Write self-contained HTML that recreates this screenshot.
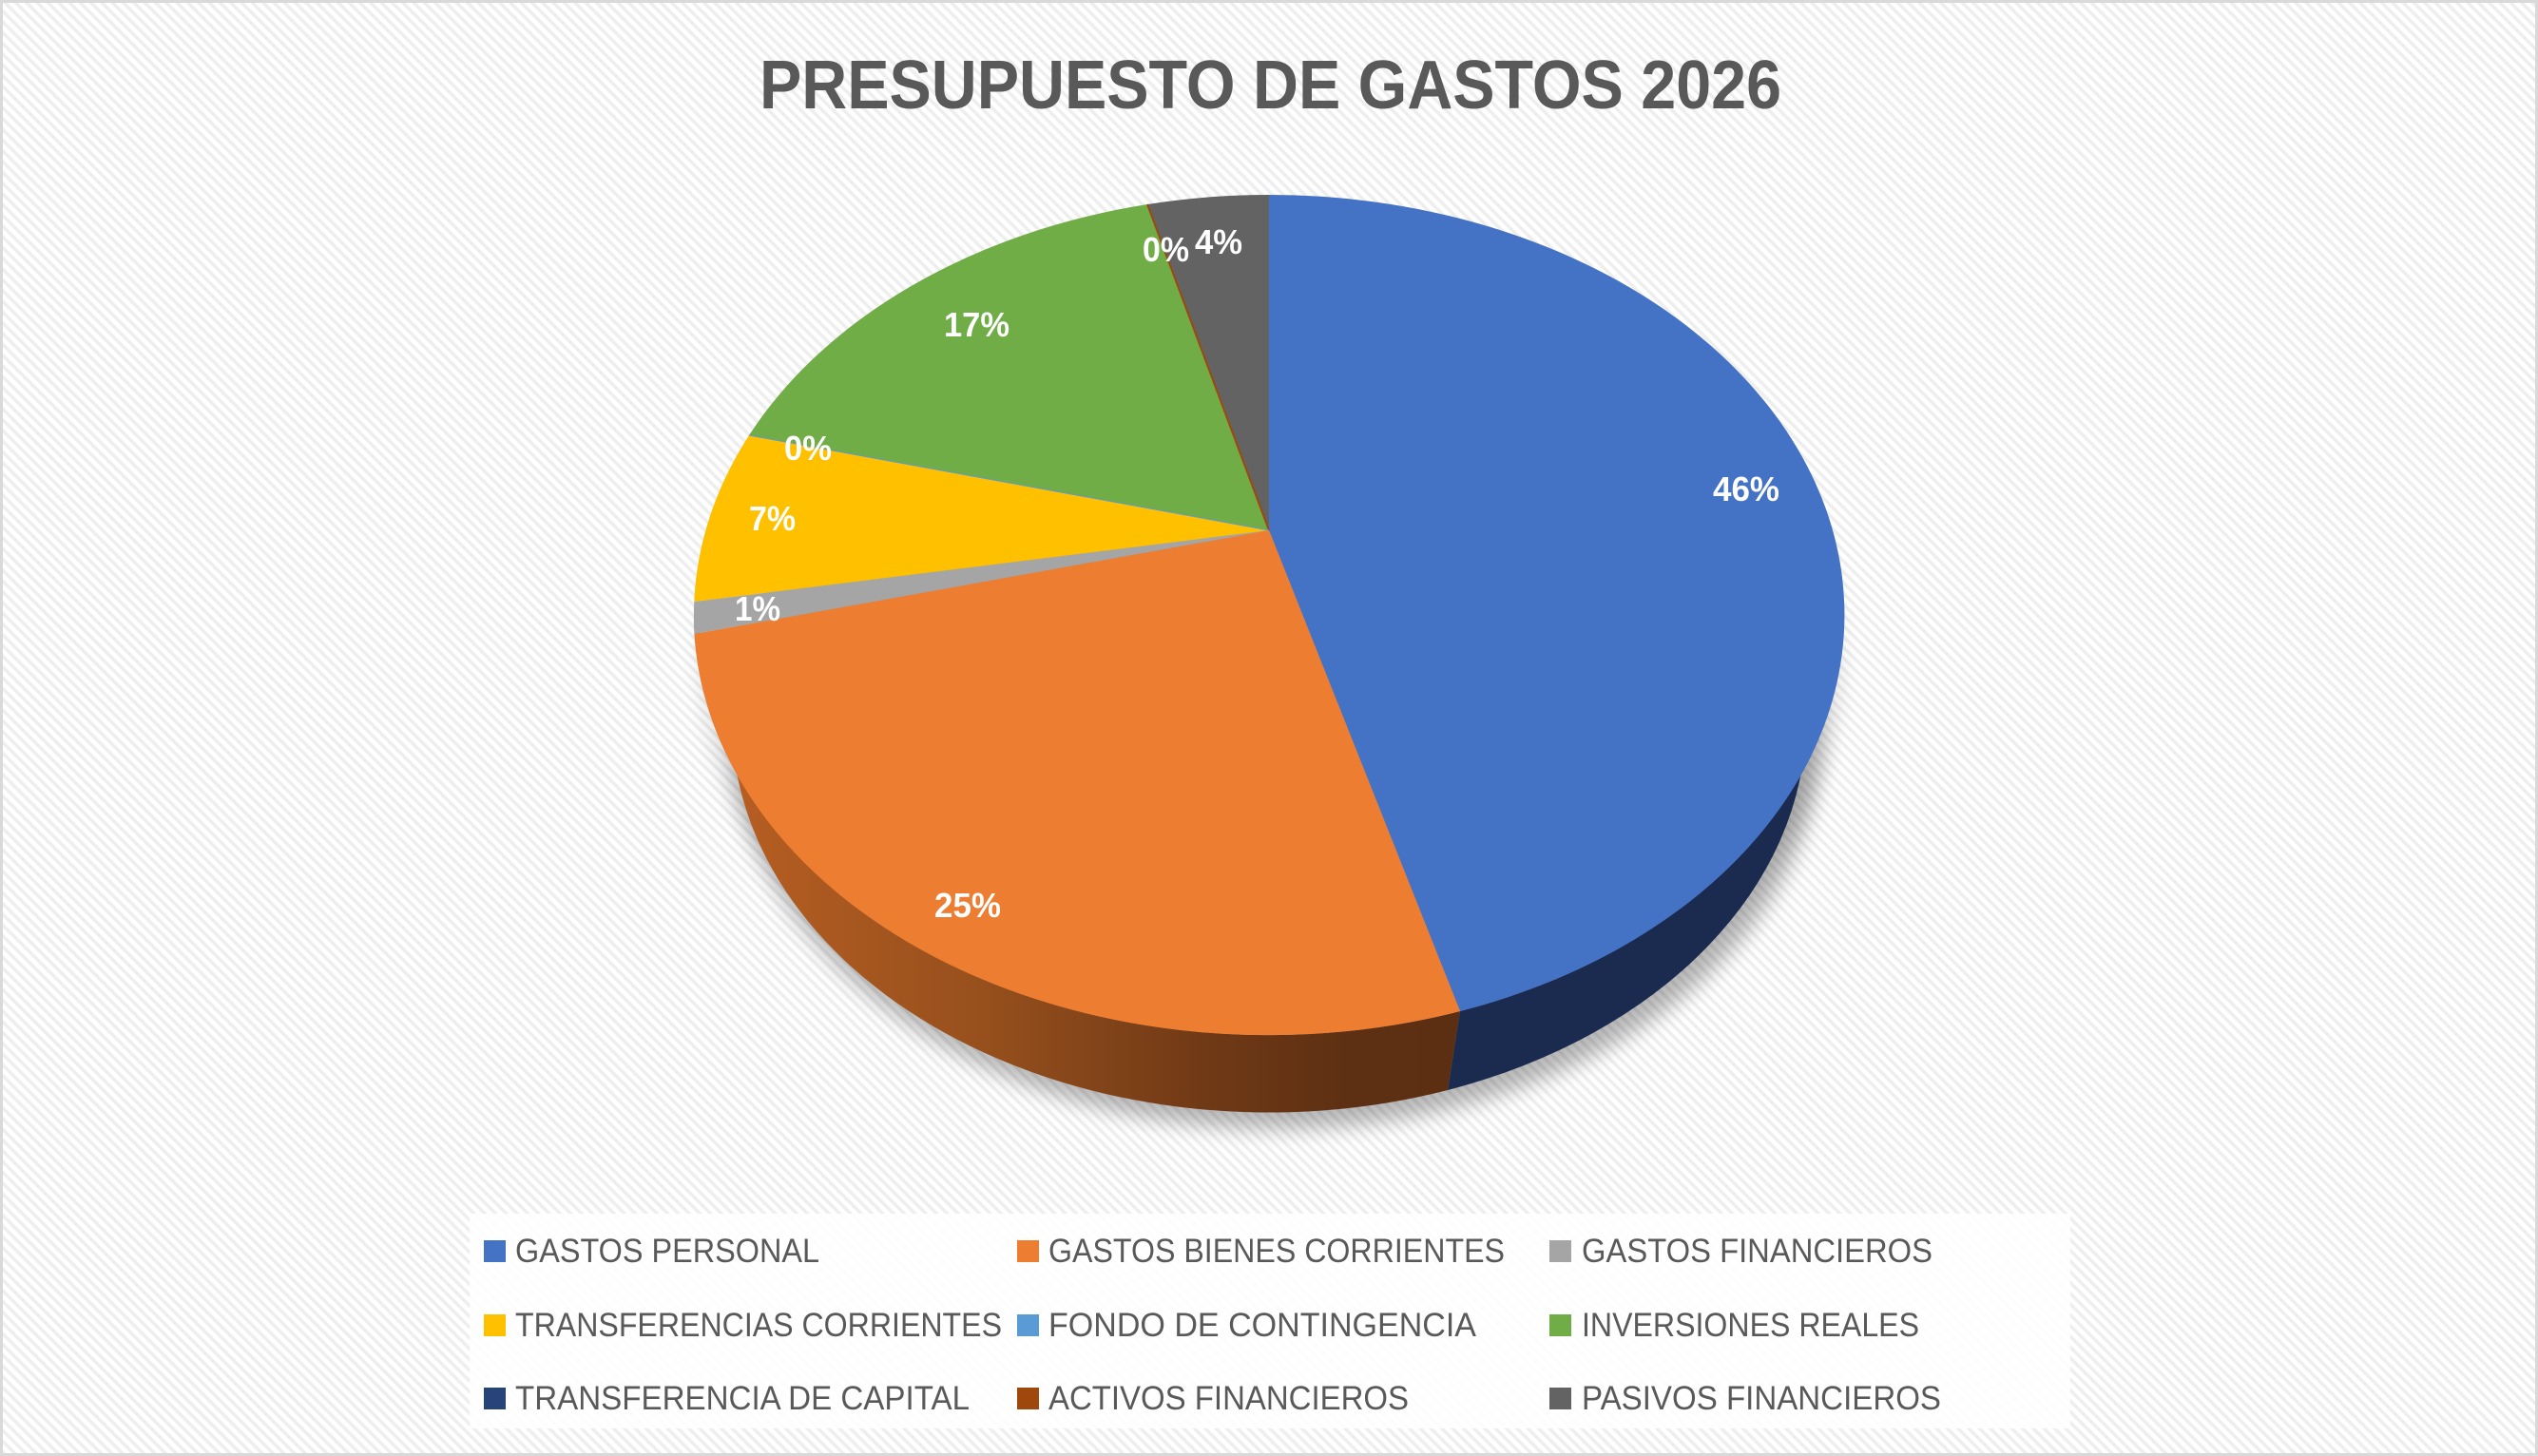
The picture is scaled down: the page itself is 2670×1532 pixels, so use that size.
<!DOCTYPE html>
<html>
<head>
<meta charset="utf-8">
<style>
html,body{margin:0;padding:0;background:#fff;}
svg{display:block;}
</style>
</head>
<body>
<svg width="2670" height="1532" viewBox="0 0 2670 1532" xmlns="http://www.w3.org/2000/svg">
<defs>
  <pattern id="hatch" width="8" height="8" patternUnits="userSpaceOnUse" patternTransform="rotate(-45)">
    <rect width="8" height="8" fill="#ffffff"/>
    <rect width="3.5" height="8" fill="#eeeeee"/>
  </pattern>
  <linearGradient id="orSide" gradientUnits="userSpaceOnUse" x1="760" y1="0" x2="1530" y2="0">
    <stop offset="0" stop-color="#b85e22"/>
    <stop offset="0.35" stop-color="#97501d"/>
    <stop offset="0.65" stop-color="#713a16"/>
    <stop offset="0.85" stop-color="#5e3013"/>
    <stop offset="1" stop-color="#5c2f13"/>
  </linearGradient>
  <filter id="blur" x="-20%" y="-20%" width="140%" height="140%">
    <feGaussianBlur stdDeviation="11"/>
  </filter>
</defs>

<!-- background -->
<rect x="0" y="0" width="2670" height="1532" fill="url(#hatch)"/>
<rect x="1.5" y="1.5" width="2667" height="1529" fill="none" stroke="#d9d9d9" stroke-width="3"/>

<!-- title -->
<text x="799" y="114" font-family="Liberation Sans, Arial, sans-serif" font-weight="bold" font-size="72" fill="#595959" textLength="1075" lengthAdjust="spacingAndGlyphs">PRESUPUESTO DE GASTOS 2026</text>

<!-- shadow -->
<ellipse cx="1343" cy="772" rx="572" ry="416" fill="#000" opacity="0.28" filter="url(#blur)"/>
<ellipse cx="1337" cy="700" rx="600" ry="430" fill="#000" opacity="0.10" filter="url(#blur)"/>

<!-- sides -->
<path d="M730,647 A605,442 0 0 0 1536,1064 L1523,1147 A565,413 0 0 1 770,758 Z" fill="url(#orSide)"/>
<path d="M1536,1064 A605,442 0 0 0 1940,647 L1900,758 A565,413 0 0 1 1523,1147 Z" fill="#1a2b4f"/>

<!-- top face slices -->
<path d="M1335,558 L1335,205 A605,442 0 0 1 1536,1064 Z" fill="#4472c4"/>
<path d="M1335,558 L1536,1064 A605,442 0 0 1 730.4,667 Z" fill="#ed7d31"/>
<path d="M1335,558 L730.4,667 A605,442 0 0 1 730.3,633 Z" fill="#a5a5a5"/>
<path d="M1335,558 L730.3,633 A605,442 0 0 1 788,458 Z" fill="#ffc000"/>
<path d="M1335,558 L788,458 A605,442 0 0 1 1207,215 Z" fill="#70ad47"/>
<path d="M1335,558 L1207,215 A605,442 0 0 1 1335,205 Z" fill="#636363"/>
<line x1="1335" y1="558" x2="1207" y2="215" stroke="#9e480e" stroke-width="2"/>
<line x1="1335" y1="558" x2="788" y2="458" stroke="#5b9bd5" stroke-width="1"/>

<!-- data labels -->
<g font-family="Liberation Sans, Arial, sans-serif" font-weight="bold" font-size="36" fill="#ffffff">
  <text x="1802" y="527" textLength="70" lengthAdjust="spacingAndGlyphs">46%</text>
  <text x="983" y="965" textLength="70" lengthAdjust="spacingAndGlyphs">25%</text>
  <text x="993" y="354" textLength="69" lengthAdjust="spacingAndGlyphs">17%</text>
  <text x="1202" y="275" textLength="49" lengthAdjust="spacingAndGlyphs">0%</text>
  <text x="1257" y="267" textLength="50" lengthAdjust="spacingAndGlyphs">4%</text>
  <text x="825" y="484" textLength="50" lengthAdjust="spacingAndGlyphs">0%</text>
  <text x="788" y="558" textLength="49" lengthAdjust="spacingAndGlyphs">7%</text>
  <text x="773" y="653" textLength="48" lengthAdjust="spacingAndGlyphs">1%</text>
</g>

<!-- legend -->
<rect x="494" y="1277" width="1684" height="226" fill="#ffffff" opacity="0.85"/>
<g>
  <rect x="509" y="1305" width="23" height="23" fill="#4472c4"/>
  <rect x="1070" y="1305" width="23" height="23" fill="#ed7d31"/>
  <rect x="1630" y="1305" width="23" height="23" fill="#a5a5a5"/>
  <rect x="509" y="1383" width="23" height="23" fill="#ffc000"/>
  <rect x="1070" y="1383" width="23" height="23" fill="#5b9bd5"/>
  <rect x="1630" y="1383" width="23" height="23" fill="#70ad47"/>
  <rect x="509" y="1460" width="23" height="23" fill="#264478"/>
  <rect x="1070" y="1460" width="23" height="23" fill="#9e480e"/>
  <rect x="1630" y="1460" width="23" height="23" fill="#636363"/>
</g>
<g font-family="Liberation Sans, Arial, sans-serif" font-size="35" fill="#595959">
  <text x="542" y="1328" textLength="320" lengthAdjust="spacingAndGlyphs">GASTOS PERSONAL</text>
  <text x="1103" y="1328" textLength="480" lengthAdjust="spacingAndGlyphs">GASTOS BIENES CORRIENTES</text>
  <text x="1664" y="1328" textLength="369" lengthAdjust="spacingAndGlyphs">GASTOS FINANCIEROS</text>
  <text x="542" y="1406" textLength="512" lengthAdjust="spacingAndGlyphs">TRANSFERENCIAS CORRIENTES</text>
  <text x="1103" y="1406" textLength="450" lengthAdjust="spacingAndGlyphs">FONDO DE CONTINGENCIA</text>
  <text x="1664" y="1406" textLength="355" lengthAdjust="spacingAndGlyphs">INVERSIONES REALES</text>
  <text x="542" y="1483" textLength="478" lengthAdjust="spacingAndGlyphs">TRANSFERENCIA DE CAPITAL</text>
  <text x="1103" y="1483" textLength="379" lengthAdjust="spacingAndGlyphs">ACTIVOS FINANCIEROS</text>
  <text x="1664" y="1483" textLength="378" lengthAdjust="spacingAndGlyphs">PASIVOS FINANCIEROS</text>
</g>
</svg>
</body>
</html>
